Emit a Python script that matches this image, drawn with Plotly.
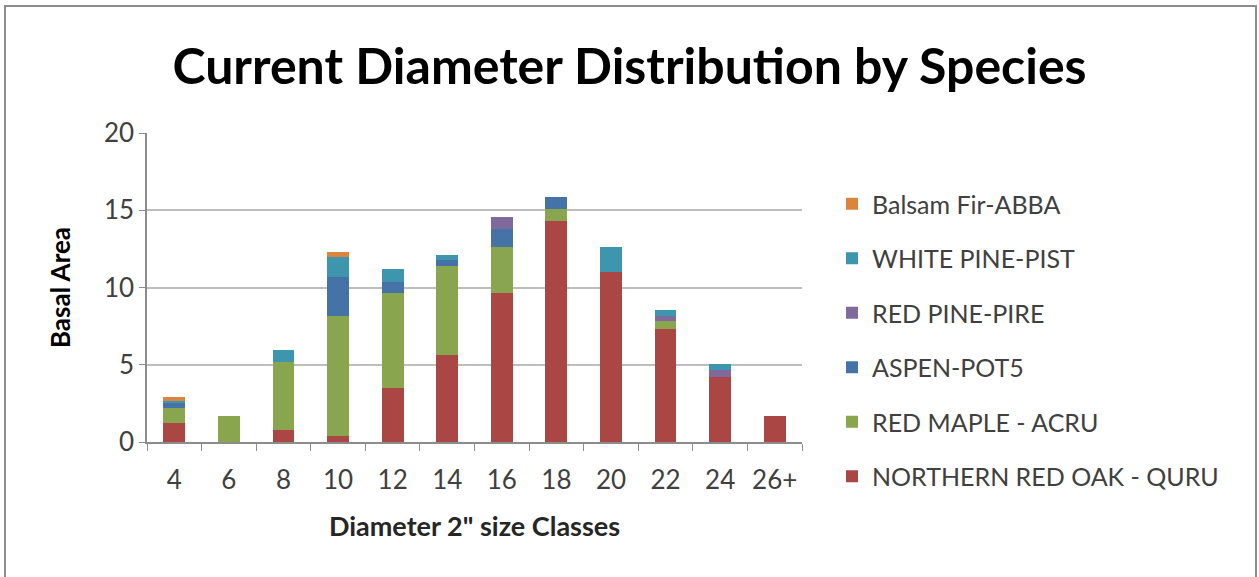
import plotly.graph_objects as go

categories = ["4", "6", "8", "10", "12", "14", "16", "18", "20", "22", "24", "26+"]

northern_red_oak = [1.25, 0, 0.76, 0.37, 3.5, 5.66, 9.62, 14.3, 11.0, 7.3, 4.22, 1.69]
red_maple = [0.93, 1.69, 4.43, 7.8, 6.12, 5.76, 2.98, 0.77, 0, 0.52, 0, 0]
aspen = [0.35, 0, 0, 2.53, 0.72, 0.36, 1.17, 0.82, 0, 0, 0, 0]
red_pine = [0, 0, 0, 0, 0, 0, 0.78, 0, 0, 0.34, 0.47, 0]
white_pine = [0.12, 0, 0.76, 1.3, 0.86, 0.32, 0, 0, 1.6, 0.41, 0.39, 0]
balsam_fir = [0.28, 0, 0, 0.32, 0, 0, 0, 0, 0, 0, 0, 0]

series = [
    ("NORTHERN RED OAK - QURU", northern_red_oak, "#AA4643"),
    ("RED MAPLE - ACRU", red_maple, "#89A54E"),
    ("ASPEN-POT5", aspen, "#4572A7"),
    ("RED PINE-PIRE", red_pine, "#80699B"),
    ("WHITE PINE-PIST", white_pine, "#3D96AE"),
    ("Balsam Fir-ABBA", balsam_fir, "#DB843D"),
]

fig = go.Figure()
n = len(series)
for i, (name, vals, color) in enumerate(series):
    fig.add_trace(go.Bar(
        x=categories, y=vals, name=name, marker=dict(color=color, line=dict(width=0)),
        legendgroup=f"g{i}", legendrank=n - i,
    ))

W, H = 1259, 577
L, R, T, B = 147, 457, 133, 135
pw, ph = W - L - R, H - T - B

def px(x):
    return (x - L) / pw

def py(y):
    return (H - B - y) / ph

fig.update_layout(
    width=W, height=H,
    barmode="stack", bargap=0.6,
    paper_bgcolor="white", plot_bgcolor="white",
    margin=dict(l=L, r=R, t=T, b=B),
    font=dict(family="Lato", color="#404040"),
    title=dict(text="<b>Current Diameter Distribution by Species</b>",
               x=0.5, xanchor="center", y=1 - 66 / H, yanchor="middle",
               font=dict(family="Lato", size=50, color="#000000")),
    showlegend=True,
    legend=dict(traceorder="grouped", tracegroupgap=19,
                x=px(832), xanchor="left", y=py(181), yanchor="top",
                font=dict(family="Lato", size=25, color="#404040"),
                itemwidth=30, bgcolor="rgba(0,0,0,0)", maxheight=500),
    xaxis=dict(type="category", tickson="boundaries", ticks="outside", ticklen=7,
               tickcolor="#8C8C8C", showline=True, linecolor="#8C8C8C", linewidth=1.5,
               showgrid=False, tickfont=dict(size=26, color="#404040"),
               ticklabelstandoff=14,
               title=dict(text="<b>Diameter 2\" size Classes</b>", standoff=23,
                          font=dict(size=27, color="#262626"))),
    yaxis=dict(range=[0, 20], dtick=5, ticks="outside", ticklen=6, tickcolor="#8C8C8C",
               showline=True, linecolor="#8C8C8C", linewidth=1.5,
               showgrid=True, gridcolor="#BEBEBE", gridwidth=1.5, zeroline=False,
               tickfont=dict(size=26, color="#404040"),
               title=dict(text="<b>Basal Area</b>", standoff=26,
                          font=dict(size=26, color="#000000"))),
    shapes=[dict(type="rect", xref="paper", yref="paper",
                 x0=px(5), x1=px(1256), y0=py(585), y1=py(6),
                 line=dict(color="#8C8C8C", width=2), fillcolor="rgba(0,0,0,0)", layer="below")],
)

fig.write_html("out.html", config={"displayModeBar": False},
               post_script="document.body.style.margin='0';")
